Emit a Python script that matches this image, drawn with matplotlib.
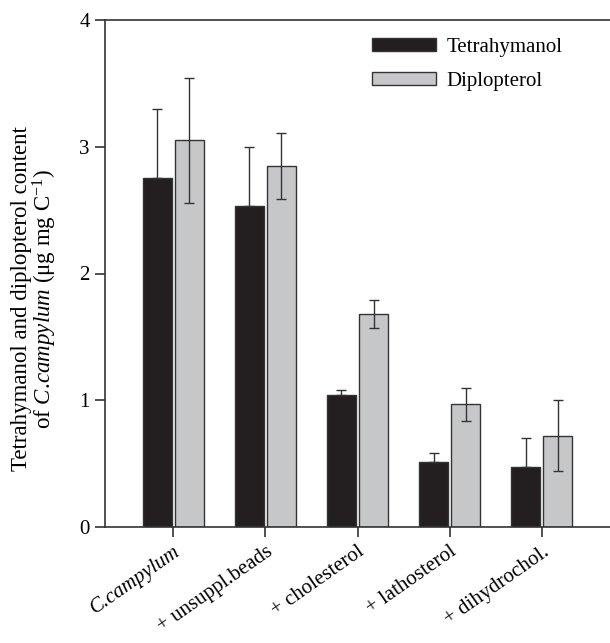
import numpy as np
import matplotlib
matplotlib.use('Agg')
import matplotlib.pyplot as plt
import matplotlib.transforms as mtransforms

# Data
categories = ['C.campylum', '+ unsuppl.beads', '+ cholesterol', '+ lathosterol', '+ dihydrochol.']
tetrahymanol = [2.75, 2.53, 1.04, 0.51, 0.47]
tetrahymanol_err = [0.55, 0.47, 0.04, 0.07, 0.23]
diplopterol = [3.05, 2.85, 1.68, 0.97, 0.72]
diplopterol_err = [0.49, 0.26, 0.11, 0.13, 0.28]

plt.rcParams['font.family'] = ['Liberation Serif', 'DejaVu Serif']
plt.rcParams['mathtext.fontset'] = 'custom'
plt.rcParams['mathtext.rm'] = 'Liberation Serif'
plt.rcParams['mathtext.it'] = 'Liberation Serif:italic'

dark = '#231f20'
gray = '#c6c7c9'
edge = '#333333'

fig = plt.figure(figsize=(6.1, 6.43), dpi=100)
ax = fig.add_axes([105 / 610, 1 - 527 / 643, 505 / 610, 507 / 643])

x = np.arange(len(categories))
w = 0.315
off = 0.175

ax.bar(x - off, tetrahymanol, w, color=dark, edgecolor=edge, linewidth=1, label='Tetrahymanol', zorder=2)
ax.bar(x + off, diplopterol, w, color=gray, edgecolor=edge, linewidth=1, label='Diplopterol', zorder=2)

ax.errorbar(x - off, tetrahymanol, yerr=[np.zeros(len(x)), tetrahymanol_err], fmt='none',
            ecolor=edge, elinewidth=1, capsize=3.6, capthick=1, zorder=3)
ax.errorbar(x + off, diplopterol, yerr=diplopterol_err, fmt='none',
            ecolor=edge, elinewidth=1, capsize=3.6, capthick=1, zorder=3)

ax.set_xlim(-0.74, 4.74)
ax.set_ylim(0, 4)
ax.set_yticks([0, 1, 2, 3, 4])
ax.set_xticks(x)
ax.set_xticklabels(categories, rotation=35, ha='right', rotation_mode='anchor')
ax.get_xticklabels()[0].set_fontstyle('italic')
shift = mtransforms.ScaledTranslation(-8 / 100, -6 / 100, fig.dpi_scale_trans)
for lab in ax.get_xticklabels():
    lab.set_transform(lab.get_transform() + shift)

for s in ['left', 'bottom', 'top']:
    ax.spines[s].set_linewidth(1.2)
    ax.spines[s].set_color(edge)
ax.spines['right'].set_visible(False)
ax.tick_params(axis='both', direction='out', length=7, width=1.2, color=edge, labelsize=15, pad=4)

ax.set_ylabel('Tetrahymanol and diplopterol content\nof $\\it{C.\\!campylum}$ ($\\mathrm{\\mu}$g mg C$^{\\mathrm{-1}}$)',
              fontsize=16.5, linespacing=0.95)
ax.yaxis.set_label_coords(-0.091, 0.45)

ax.legend(loc='upper left', bbox_to_anchor=(0.509, 0.985), frameon=False, fontsize=15,
          handlelength=3.05, handleheight=0.6, handletextpad=0.5, labelspacing=0.7, borderpad=0)

fig.savefig('out.png', dpi=100)
